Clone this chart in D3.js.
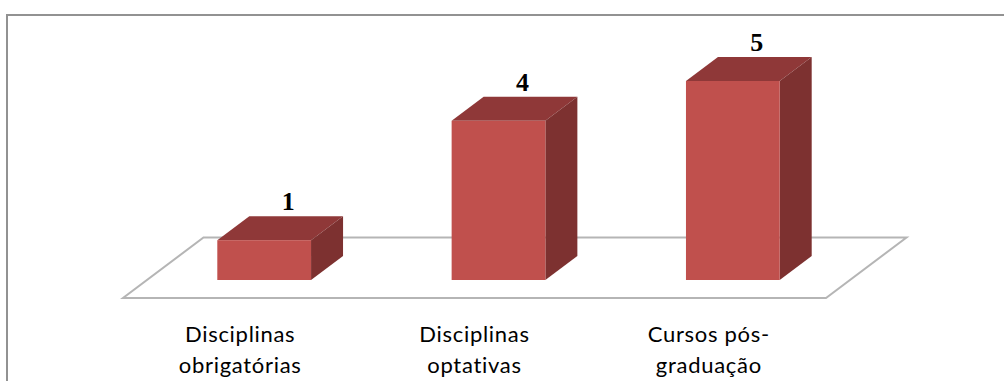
<!DOCTYPE html>
<html lang="pt">
<head>
<meta charset="utf-8">
<style>
  html, body { margin: 0; padding: 0; background: #fff; }
  svg { display: block; }
</style>
<script src="https://cdn.jsdelivr.net/npm/d3@7"></script>
</head>
<body>
<script>
// Chart data
const categories = ["Disciplinas obrigatórias", "Disciplinas optativas", "Cursos pós-graduação"];
const categoryLines = [["Disciplinas", "obrigatórias"], ["Disciplinas", "optativas"], ["Cursos pós-", "graduação"]];
const values = [1, 4, 5];

const width = 1004, height = 381;

// Floor parallelogram corners and the oblique projection of the bar depth
const floorFront = { y: 298, left: 123, right: 826 };
const floorDepth = { dx: 80.5, dy: -60.5 };
const barDepth = { dx: 32, dy: -24 };
const barInset = { dx: 24, dy: -18 };

const x = d3.scaleBand()
  .domain(categories)
  .range([floorFront.left, floorFront.right])
  .paddingInner(0.6)
  .paddingOuter(0.3);

// The label axis uses whole category slots rather than bar widths
const xSlot = d3.scaleBand()
  .domain(categories)
  .range([floorFront.left, floorFront.right]);

const y = d3.scaleLinear()
  .domain([0, 5])
  .range([floorFront.y + barInset.dy, floorFront.y + barInset.dy - 199]);

const svg = d3.select("body").append("svg")
  .attr("width", width)
  .attr("height", height);

svg.append("rect").attr("width", width).attr("height", height).attr("fill", "#fff");

// Outer frame: only its top and left edges fall inside the canvas
svg.append("path")
  .attr("d", d3.line()([[7, height], [7, 15], [width, 15]]))
  .attr("fill", "none")
  .attr("stroke", "#929292")
  .attr("stroke-width", 2);

// Chart floor
svg.append("path")
  .attr("d", d3.line()([
    [floorFront.left, floorFront.y],
    [floorFront.right, floorFront.y],
    [floorFront.right + floorDepth.dx, floorFront.y + floorDepth.dy],
    [floorFront.left + floorDepth.dx, floorFront.y + floorDepth.dy]
  ]) + "Z")
  .attr("fill", "#fff")
  .attr("stroke", "#b5b5b5")
  .attr("stroke-width", 2)
  .attr("stroke-linejoin", "miter");

// 3D bars: top, side and front faces
const bars = svg.append("g").selectAll("g")
  .data(values)
  .join("g")
  .datum((d, i) => {
    const x0 = x(categories[i]) + barInset.dx;
    return { value: d, x0, x1: x0 + x.bandwidth(), yTop: y(d), yBase: y(0) };
  });

bars.append("path")
  .attr("fill", "#8f3838")
  .attr("d", b => d3.line()([
    [b.x0, b.yTop],
    [b.x0 + barDepth.dx, b.yTop + barDepth.dy],
    [b.x1 + barDepth.dx, b.yTop + barDepth.dy],
    [b.x1, b.yTop]
  ]) + "Z");

bars.append("path")
  .attr("fill", "#7d3130")
  .attr("d", b => d3.line()([
    [b.x1, b.yTop],
    [b.x1 + barDepth.dx, b.yTop + barDepth.dy],
    [b.x1 + barDepth.dx, b.yBase + barDepth.dy],
    [b.x1, b.yBase]
  ]) + "Z");

bars.append("rect")
  .attr("x", b => b.x0)
  .attr("y", b => b.yTop)
  .attr("width", b => b.x1 - b.x0)
  .attr("height", b => b.yBase - b.yTop)
  .attr("fill", "#c0504d");

// Value labels above the back edge of each bar
bars.append("text")
  .attr("x", b => (b.x0 + b.x1) / 2 + 24)
  .attr("y", b => b.yTop - 30)
  .attr("text-anchor", "middle")
  .attr("font-family", "'Liberation Serif', serif")
  .attr("font-weight", "bold")
  .attr("font-size", 26)
  .attr("fill", "#000")
  .text(b => b.value);

// Category axis, with each label split over two lines
const axis = svg.append("g")
  .attr("transform", `translate(0,${floorFront.y})`)
  .call(d3.axisBottom(xSlot).tickSize(0));

axis.select(".domain").remove();

axis.selectAll(".tick text")
  .attr("font-family", "Lato, 'Open Sans', sans-serif")
  .attr("font-size", 22)
  .attr("letter-spacing", 0.7)
  .attr("fill", "#000")
  .attr("y", 0)
  .attr("dy", null)
  .each(function (d) {
    const lines = categoryLines[categories.indexOf(d)];
    const text = d3.select(this).text(null);
    lines.forEach((line, i) => {
      text.append("tspan")
        .attr("x", 0)
        .attr("y", 43.5 + i * 31)
        .text(line);
    });
  });
</script>
</body>
</html>
